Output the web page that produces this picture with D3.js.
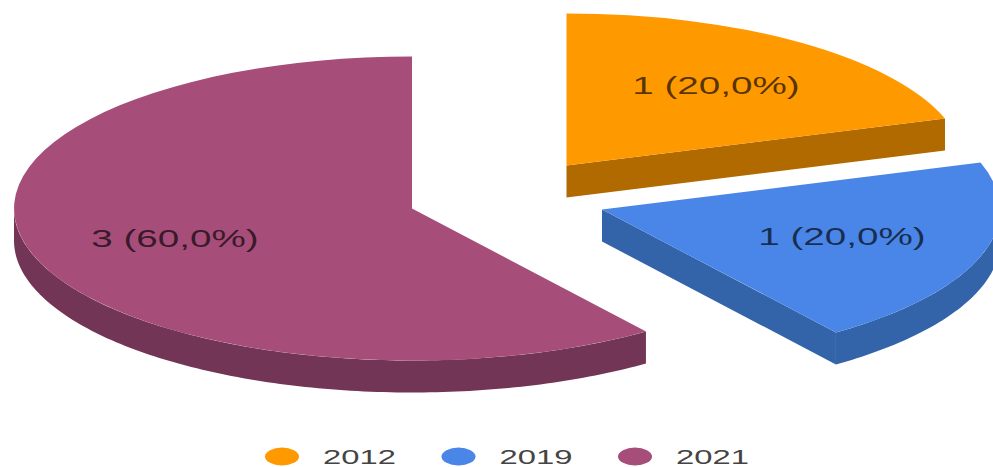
<!DOCTYPE html>
<html>
<head>
<meta charset="utf-8">
<style>
  html, body { margin: 0; padding: 0; background: #fff; }
  svg { display: block; font-family: "Liberation Sans", Arial, sans-serif; }
</style>
<script src="https://cdnjs.cloudflare.com/ajax/libs/d3/7.8.5/d3.min.js"></script>
</head>
<body>
<svg id="chart" width="993" height="467"></svg>
<script>
// Share of items per year
const years = ["2012", "2019", "2021"];
const counts = [1, 1, 3];
const valueLabels = ["1 (20,0%)", "1 (20,0%)", "3 (60,0%)"];
const topColors = ["#ff9900", "#4a86e8", "#a64d79"];
const sideColors = ["#b06a00", "#3363a8", "#733555"];

// Layout of the tilted, exploded pie
const radiusX = 398, radiusY = 152, depth = 32;
const sliceCenters = [[566.5, 165.5], [602, 209.5], [412, 208.5]];
const labelCenters = [[716, 86], [842, 237], [175, 239]];

const svg = d3.select("#chart");

// Slices run clockwise from 12 o'clock in source order
const arcs = d3.pie().sort(null).startAngle(0).endAngle(2 * Math.PI)(counts);

const project = (a, c, dz = 0) => [
  c[0] + radiusX * Math.sin(a),
  c[1] - radiusY * Math.cos(a) + dz
];
const line = d3.line();
const unitArc = d3.arc().innerRadius(0).outerRadius(1);

// Sampled angles between two bounds
const sweep = (a0, a1) => {
  const n = Math.max(2, Math.ceil(Math.abs(a1 - a0) * 60));
  return d3.range(n + 1).map(i => a0 + (a1 - a0) * i / n);
};

arcs.forEach((d, i) => {
  const c = sliceCenters[i];
  const g = svg.append("g");

  // Flat cut faces that look toward the viewer (end edge in the right half,
  // start edge in the left half)
  const sides = [];
  if (Math.sin(d.endAngle) > 0.01) {
    const e = project(d.endAngle, c);
    sides.push([c, e, [e[0], e[1] + depth], [c[0], c[1] + depth]]);
  }
  if (Math.sin(d.startAngle) < -0.01) {
    const s = project(d.startAngle, c);
    sides.push([c, s, [s[0], s[1] + depth], [c[0], c[1] + depth]]);
  }
  sides.forEach(p => g.append("path")
    .attr("d", line(p) + "Z")
    .attr("fill", sideColors[i]));

  // Rim along the front half of the ellipse
  const a0 = Math.max(d.startAngle, Math.PI / 2);
  const a1 = Math.min(d.endAngle, 3 * Math.PI / 2);
  if (a1 > a0) {
    const angles = sweep(a0, a1);
    const rim = angles.map(a => project(a, c))
      .concat(angles.slice().reverse().map(a => project(a, c, depth)));
    g.append("path")
      .attr("d", line(rim) + "Z")
      .attr("fill", sideColors[i]);
  }

  // Top face: a unit wedge squashed into the ellipse
  g.append("path")
    .attr("transform", `translate(${c[0]},${c[1]}) scale(${radiusX},${radiusY})`)
    .attr("d", unitArc({startAngle: d.startAngle, endAngle: d.endAngle}))
    .attr("fill", topColors[i]);

  // Value label, dark ink that lets the slice colour through
  svg.append("text")
    .attr("transform", `translate(${labelCenters[i][0]},${labelCenters[i][1]}) scale(1.68,1)`)
    .attr("text-anchor", "middle")
    .attr("dy", "0.36em")
    .attr("font-size", 23)
    .attr("fill", "#000")
    .attr("fill-opacity", 0.68)
    .text(valueLabels[i]);
});

// Legend
const legendX = d3.scalePoint().domain(years).range([282, 635]);
const legendY = 456.5;
const legend = svg.append("g").selectAll("g").data(years).join("g")
  .attr("transform", d => `translate(${legendX(d)},${legendY})`);
legend.append("ellipse")
  .attr("rx", 17).attr("ry", 9)
  .attr("fill", (d, i) => topColors[i]);
legend.append("text")
  .attr("transform", "translate(41,0) scale(1.64,1)")
  .attr("dy", "0.36em")
  .attr("font-size", 20)
  .attr("fill", "#444")
  .text(d => d);
</script>
</body>
</html>
